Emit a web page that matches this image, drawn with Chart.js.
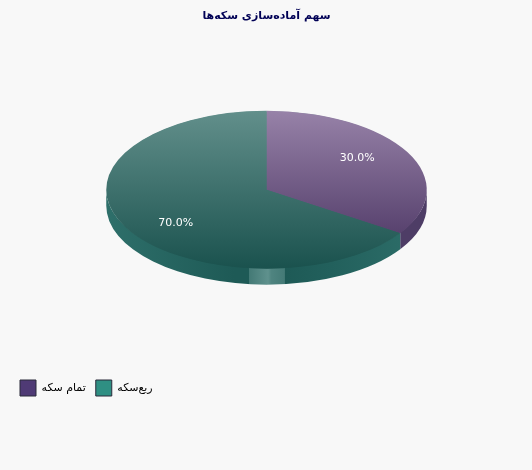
<!DOCTYPE html>
<html lang="fa"><head><meta charset="utf-8">
<style>html,body{margin:0;padding:0;background:#f8f8f8}#w{width:532px;height:470px;position:relative}</style>
<script src="https://cdn.jsdelivr.net/npm/chart.js@4"></script></head>
<body><div id="w"><canvas id="c" width="532" height="470"></canvas></div>
<script>
const chartTitle = 'سهم آماده‌سازی سکه‌ها';
const categories = ['تمام سکه', 'ربع‌سکه'];
const shareValues = [30, 70];
const swatchColors = ['#4f3a75', '#2f8f83'];
const faceTopColors = ['#9782a8', '#628f8b'];
const faceBottomColors = ['#513b68', '#1a524e'];
const wallColors = ['#4e3d66', '#2a6b67'];

const SQUASH = 79 / 160.5, DEPTH = 16;
const FONT = '"DejaVu Sans", sans-serif';
const TAU = Math.PI * 2;
const warp = a => Math.atan2(Math.sin(a) / SQUASH, Math.cos(a));

function faceGradient(ctx, area, i) {
  const cy = (area.top + area.bottom) / 2, r = (area.bottom - area.top) / 2;
  const g = ctx.createLinearGradient(0, cy - r, 0, i === 0 ? cy + r * 0.72 : cy + r);
  g.addColorStop(0, faceTopColors[i]);
  g.addColorStop(1, faceBottomColors[i]);
  return g;
}

const pie3d = {
  id: 'pie3d',
  afterDatasetUpdate(chart) {
    let prev = -Math.PI / 2;
    chart.getDatasetMeta(0).data.forEach((arc, i, all) => {
      const a0 = arc.startAngle, a1 = arc.endAngle;
      arc.dataMid = (a0 + a1) / 2;
      let e = warp(a1);
      while (e <= prev + 1e-6) e += TAU;
      if (i === all.length - 1) e = -Math.PI / 2 + TAU;
      arc.startAngle = prev; arc.endAngle = e; arc.circumference = e - prev;
      prev = e;
    });
  },
  beforeDatasetsDraw(chart) {
    const ctx = chart.ctx, arcs = chart.getDatasetMeta(0).data;
    ctx.save();
    arcs.forEach((arc, i) => {
      const s = Math.max(arc.startAngle, 0), e = Math.min(arc.endAngle, Math.PI);
      if (e <= s) return;
      const rx = arc.outerRadius, ry = rx * SQUASH, x = arc.x, y = arc.y;
      const g = ctx.createLinearGradient(x - rx, 0, x + rx, 0);
      const base = wallColors[i];
      if (i === 1) {
        g.addColorStop(0, '#2e6f6a'); g.addColorStop(0.4, '#1e5a56');
        g.addColorStop(0.445, '#1e5a56'); g.addColorStop(0.447, '#447a76');
        g.addColorStop(0.505, '#5f918d'); g.addColorStop(0.515, '#4f8480');
        g.addColorStop(0.556, '#447a76'); g.addColorStop(0.558, '#1e5a56');
        g.addColorStop(0.7, '#22605c'); g.addColorStop(1, '#2e6f6a');
      } else { g.addColorStop(0, base); g.addColorStop(1, base); }
      ctx.fillStyle = g;
      ctx.beginPath();
      ctx.ellipse(x, y, rx, ry - 1.5, 0, s, e);
      ctx.ellipse(x, y + DEPTH, rx, ry, 0, e, s, true);
      ctx.closePath();
      ctx.fill();
    });
    const c = arcs[0];
    ctx.translate(c.x, c.y); ctx.scale(1, SQUASH); ctx.translate(-c.x, -c.y);
    ctx.fillStyle = faceGradient(ctx, chart.chartArea, 1);
    ctx.beginPath();
    ctx.arc(c.x, c.y, c.outerRadius - 1, 0, TAU);
    ctx.fill();
  },
  afterDatasetsDraw(chart) {
    const ctx = chart.ctx;
    ctx.restore();
    ctx.save();
    ctx.fillStyle = '#ffffff';
    ctx.font = '11px ' + FONT;
    ctx.textAlign = 'center'; ctx.textBaseline = 'middle';
    chart.getDatasetMeta(0).data.forEach((arc, i) => {
      const r = arc.outerRadius * 0.7;
      const total = shareValues.reduce((p, v) => p + v, 0);
      ctx.fillText((shareValues[i] / total * 100).toFixed(1) + '%',
        arc.x + Math.cos(arc.dataMid) * r,
        arc.y + Math.sin(arc.dataMid) * r * SQUASH + 1);
    });
    ctx.restore();
  }
};

function faceFill(context) {
  const area = context.chart.chartArea, i = context.dataIndex;
  return area ? faceGradient(context.chart.ctx, area, i) : faceTopColors[i];
}

new Chart(document.getElementById('c'), {
  type: 'pie',
  plugins: [pie3d],
  data: { labels: categories, datasets: [{ data: shareValues, backgroundColor: faceFill, borderWidth: 0, clip: false }] },
  options: {
    responsive: false, animation: false, devicePixelRatio: 1,
    layout: { padding: { left: 10, right: 9, top: 0, bottom: 64 } },
    plugins: {
      tooltip: { enabled: false },
      title: { display: true, text: chartTitle, color: '#000055', align: 'center',
        font: { family: FONT, size: 11, weight: 'bold' }, padding: { top: 10, bottom: 6.3 } },
      legend: { position: 'bottom', align: 'start',
        title: { display: true, text: '', font: { size: 10 }, padding: { top: 4, bottom: 4 } },
        labels: { boxWidth: 16, boxHeight: 16, padding: 10, color: '#000000', font: { family: FONT, size: 11 },
          generateLabels: () => categories.map((t, i) => ({ text: t, fillStyle: swatchColors[i], strokeStyle: '#2a2a3a', lineWidth: 1, index: i, fontColor: '#000000' })) } }
    }
  }
});
</script></body></html>
